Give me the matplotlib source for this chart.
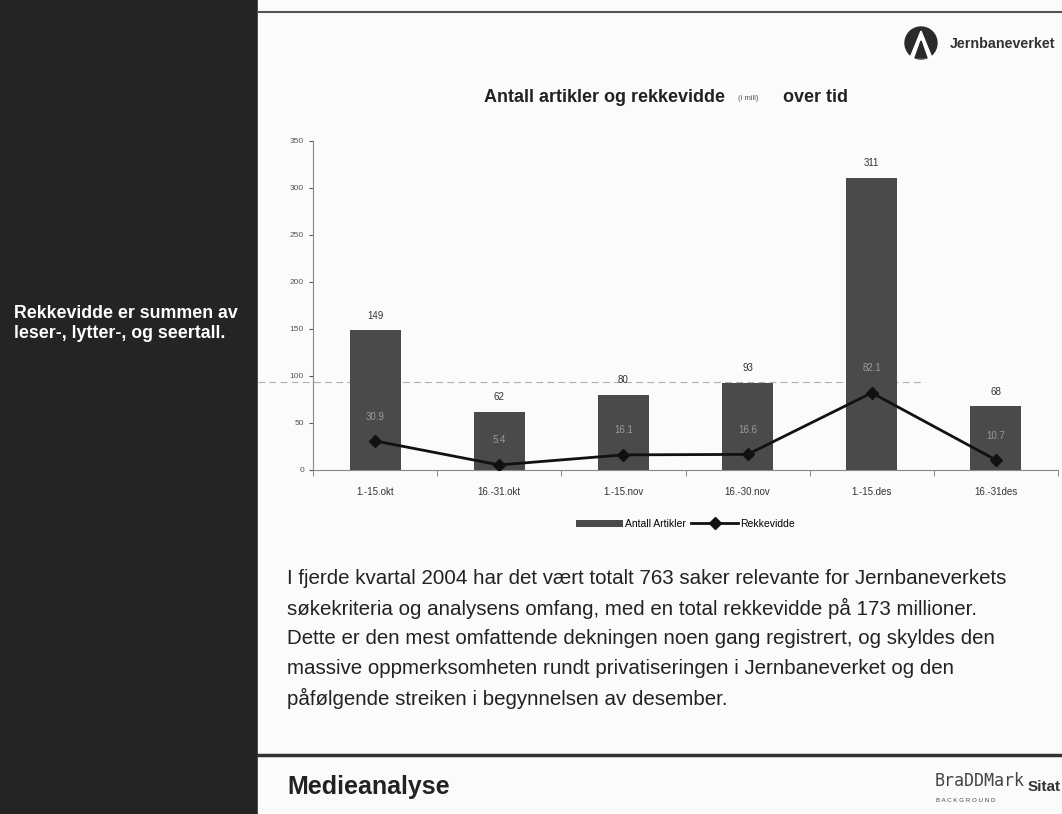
import numpy as np
import matplotlib.pyplot as plt
from matplotlib.patches import Rectangle, Circle, Polygon

plt.rcParams['font.family'] = ['Liberation Sans', 'DejaVu Sans']

# data
perioder = ['1.-15.okt', '16.-31.okt', '1.-15.nov', '16.-30.nov', '1.-15.des', '16.-31des']
antall_artikler = [149, 62, 80, 93, 311, 68]
rekkevidde = [30.9, 5.4, 16.1, 16.6, 82.1, 10.7]
y_ticks = [0, 50, 100, 150, 200, 250, 300, 350]

tekst = [
    "I fjerde kvartal 2004 har det vært totalt 763 saker relevante for Jernbaneverkets",
    "søkekriteria og analysens omfang, med en total rekkevidde på 173 millioner.",
    "Dette er den mest omfattende dekningen noen gang registrert, og skyldes den",
    "massive oppmerksomheten rundt privatiseringen i Jernbaneverket og den",
    "påfølgende streiken i begynnelsen av desember.",
]

W, H = 1062, 814
fig = plt.figure(figsize=(W / 100, H / 100), dpi=100)
fig.patch.set_facecolor('white')

# bakgrunn i pikselkoordinater
bg = fig.add_axes([0, 0, 1, 1])
bg.set_xlim(0, W)
bg.set_ylim(H, 0)
bg.axis('off')

bg.add_patch(Rectangle((0, 0), 258, H, color='#242424', zorder=0))
bg.add_patch(Rectangle((258, 0), W - 258, H, color='#fbfbfb', zorder=0))
bg.plot([258, W], [12, 12], color='#555555', lw=1.5)
bg.plot([258, W], [755, 755], color='#333333', lw=2.5)

bg.text(14, 313, "Rekkevidde er summen av", color='white', fontsize=12.8,
        fontweight='bold', va='center')
bg.text(14, 333, "leser-, lytter-, og seertall.", color='white', fontsize=12.8,
        fontweight='bold', va='center')

# Jernbaneverket-logo
bg.add_patch(Circle((921, 43), 16, color='#2a2a2a'))
bg.add_patch(Polygon([[921, 31], [910, 58], [932, 58]], closed=True, color='white'))
bg.add_patch(Polygon([[921, 41], [915, 58], [927, 58]], closed=True, color='#2a2a2a'))
bg.text(950, 44, "Jernbaneverket", fontsize=10.3, fontweight='bold', color='#333333', va='center')

# tittel
bg.text(484, 97, "Antall artikler og rekkevidde", fontsize=13, fontweight='bold',
        color='#222222', va='center')
bg.text(738, 98, "(i mill)", fontsize=5.5, color='#555555', va='center')
bg.text(783, 97, "over tid", fontsize=13, fontweight='bold', color='#222222', va='center')

for i, linje in enumerate(tekst):
    bg.text(287, 578 + i * 30, linje, fontsize=14.8, color='#222222', va='center')

bg.text(287, 787, "Medieanalyse", fontsize=18, fontweight='bold', color='#222222', va='center')
bg.text(935, 781, "BraDDMark", fontsize=12, color='#444444', va='center', fontfamily='DejaVu Sans Mono')
bg.text(936, 800, "B A C K G R O U N D", fontsize=4.5, color='#444444', va='center')
bg.text(1028, 787, "Sitat", fontsize=11, fontweight='bold', color='#333333', va='center')

# stiplet linje fra skanningen
bg.plot([258, 925], [382, 382], color='#b0b0b0', lw=0.8, ls=(0, (6, 4)), zorder=1)

# diagram
ax = fig.add_axes([313 / W, 1 - 470 / H, 745 / W, 329 / H])
ax.patch.set_alpha(0)
x = np.arange(len(perioder))
bars = ax.bar(x, antall_artikler, width=0.41, color='#4a4a4a', label='Antall Artikler', zorder=2)
line, = ax.plot(x, rekkevidde, color='#111111', lw=2, marker='D', markersize=6,
                label='Rekkevidde', zorder=3)

for xi, v in zip(x, antall_artikler):
    ax.text(xi, v + 10, str(v), ha='center', va='bottom', fontsize=7, color='#333333')
for xi, v in zip(x, rekkevidde):
    ax.text(xi, v + 26, f"{v:.1f}", ha='center', va='center', fontsize=7, color='#9a9a9a', zorder=4)

ax.set_xlim(-0.5, 5.5)
ax.set_ylim(0, 350)
ax.set_yticks(y_ticks)
ax.tick_params(axis='y', labelsize=6, colors='#555555', length=3)
ax.set_xticks(x)
ax.set_xticklabels(perioder, fontsize=7, color='#333333')
ax.set_xticks(np.arange(-0.5, 6, 1), minor=True)
ax.tick_params(axis='x', which='major', length=0, pad=12)
ax.tick_params(axis='x', which='minor', length=4, color='#777777')
for s in ['top', 'right']:
    ax.spines[s].set_visible(False)
for s in ['left', 'bottom']:
    ax.spines[s].set_color('#888888')

ax.legend([bars, line], ['Antall Artikler', 'Rekkevidde'], loc='upper center',
          bbox_to_anchor=(0.5, -0.12), ncol=2, frameon=False,
          fontsize=7.5, handlelength=4.5, columnspacing=0.5, handletextpad=0.2)

fig.savefig('out.png', dpi=100)
